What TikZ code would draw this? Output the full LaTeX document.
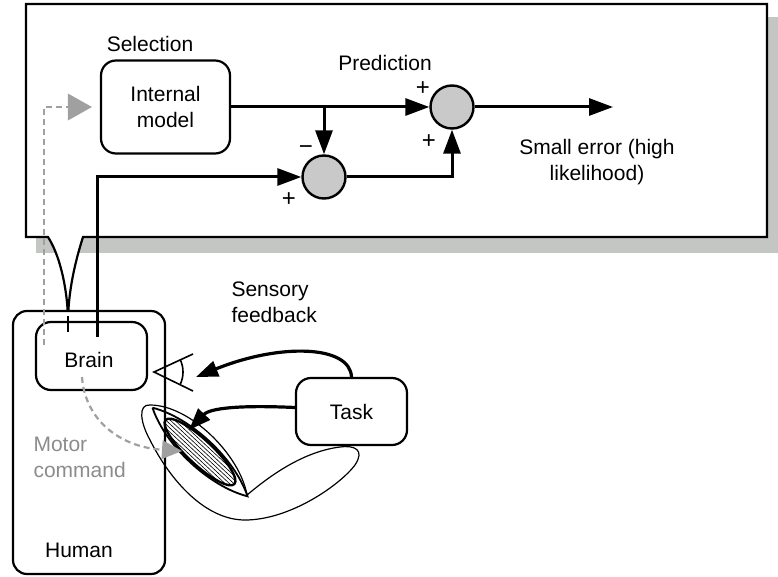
\documentclass[tikz,border=0pt]{standalone}
\usepackage{fontspec}
\setmainfont{Liberation Sans}
\usetikzlibrary{arrows.meta}
\definecolor{shadowgray}{RGB}{196,198,196}
\definecolor{sumgray}{RGB}{200,201,200}
\definecolor{cmdgray}{RGB}{160,160,160}
\definecolor{cmdtext}{RGB}{140,140,140}
\begin{document}
\begin{tikzpicture}[x=1pt,y=-1pt,
  font=\fontsize{21}{26}\selectfont,
  box/.style={draw, line width=2.2pt, rounded corners=15pt, fill=white,
    align=center, inner sep=0pt},
  junction/.style={circle, draw, line width=2.4pt, fill=sumgray,
    minimum size=43pt, inner sep=0pt},
  flow/.style={line width=3pt, -{Triangle[length=24pt,width=17pt]}},
  feed/.style={line width=3.2pt, -{Triangle[length=22pt,width=16pt]}},
  cmd/.style={draw=cmdgray, line width=2.2pt, dash pattern=on 6pt off 4pt},
  sign/.style={font=\fontsize{24}{26}\selectfont, inner sep=0pt},
  thin/.style={line width=1.2pt}
]
\useasboundingbox (0,0) rectangle (778,577);

% shadow and outer frame with the nerve funnel
\fill[shadowgray] (36,17) rectangle (778,253);
\draw[line width=2.2pt, fill=white]
  (68,318) .. controls (67,285) and (59,254) .. (48,237)
  -- (26,237) -- (26,4) -- (767,4) -- (767,237) -- (83,237)
  .. controls (77,256) and (69,285) .. (68,318);

% model side
\node[box, minimum width=129pt, minimum height=93pt] (model) at (165.5,107) {Internal\\model};
\node (sel) at (150,44) {Selection};
\node (pred) at (385,63) {Prediction};
\node[junction] (diff) at (324,177) {};
\node[junction] (sum) at (452,107) {};
\node[align=center] (err) at (597,162) {Small error (high\\likelihood)};
\node[sign] (mn) at (306,150) {−};
\node[sign] (p1) at (289,200) {+};
\node[sign] (p2) at (423,89) {+};
\node[sign] (p3) at (429,142) {+};
\coordinate (out) at (613,107);

% human side
\node[box, rounded corners=14pt, minimum width=152pt, minimum height=263pt] (human) at (89,442.5) {};
\node (humanlbl) at (79,550) {Human};
\node[box, minimum width=111pt, minimum height=68pt] (brain) at (91.5,356) {};
\node (brainlbl) at (89,360) {Brain};
\node[box, minimum width=111pt, minimum height=67pt] (task) at (351.5,411.5) {Task};
\node[align=left, anchor=west] (sens) at (228,302) {Sensory\\feedback};
\node[align=left, anchor=west, text=cmdtext] (motor) at (30,457) {Motor\\command};

\coordinate (nerve) at (68,332);
\coordinate (fork) at (68,316);
\coordinate (brainin) at (97,337);
\coordinate (selstart) at (44,345);
\coordinate (mstart) at (82,377);
\coordinate (mend) at (182,451);
\coordinate (eyetip) at (196,377);
\coordinate (musc) at (189,430);

% eye
\draw[line width=1.6pt] (193,354) -- (154,372) -- (193,391);
\draw[line width=1.6pt] (154,372) ++(-25:29) arc[start angle=-25, end angle=25, radius=29];

% arm outline
\draw[thin] (247,495) .. controls (240,455) and (190,405) .. (150,405)
  .. controls (138,404) and (140,422) .. (150,440)
  .. controls (170,480) and (205,520) .. (245,520)
  .. controls (290,520) and (340,485) .. (355,465)
  .. controls (365,450) and (355,445) .. (340,447)
  .. controls (300,452) and (265,480) .. (247,495);

% muscle
\begin{scope}[shift={(200,452)}, rotate=-43]
  \draw[line width=1.8pt] (-65,0) .. controls (-30,-19) and (30,-19) .. (65,0)
    .. controls (30,19) and (-30,19) .. (-65,0);
  \begin{scope}
    \clip (0,0) ellipse[x radius=47, y radius=12.5];
    \foreach \k in {-12,-9,...,12}
      \draw[line width=0.6pt] (-50,\k) -- (50,\k);
  \end{scope}
  \draw[line width=2.4pt] (0,0) ellipse[x radius=47, y radius=12.5];
\end{scope}

% signal flow
\draw[line width=2.6pt] (fork) -- (nerve);
\draw[flow] (model.east) -- (sum.west);
\draw[flow] (model.east -| diff.north) -- (diff.north);
\draw[flow] (brainin) |- (diff.west);
\draw[flow] (diff.east) -| (sum.south);
\draw[flow] (sum.east) -- (out);

\draw[cmd, -{Triangle[length=24pt,width=27pt,color=cmdgray,fill=cmdgray,line width=0pt]}, shorten >=8pt]
  (selstart) |- (model.west);
\draw[cmd, -{Triangle[length=20pt,width=19pt,color=cmdgray,fill=cmdgray,line width=0pt]}]
  (mstart) .. controls (85,420) and (120,447) .. (mend);

\draw[feed] (task.north) .. controls (350,345) and (280,343) .. (eyetip);
\draw[feed] ([yshift=4pt]task.west) .. controls (240,405) and (210,408) .. (musc);
\end{tikzpicture}
\end{document}
